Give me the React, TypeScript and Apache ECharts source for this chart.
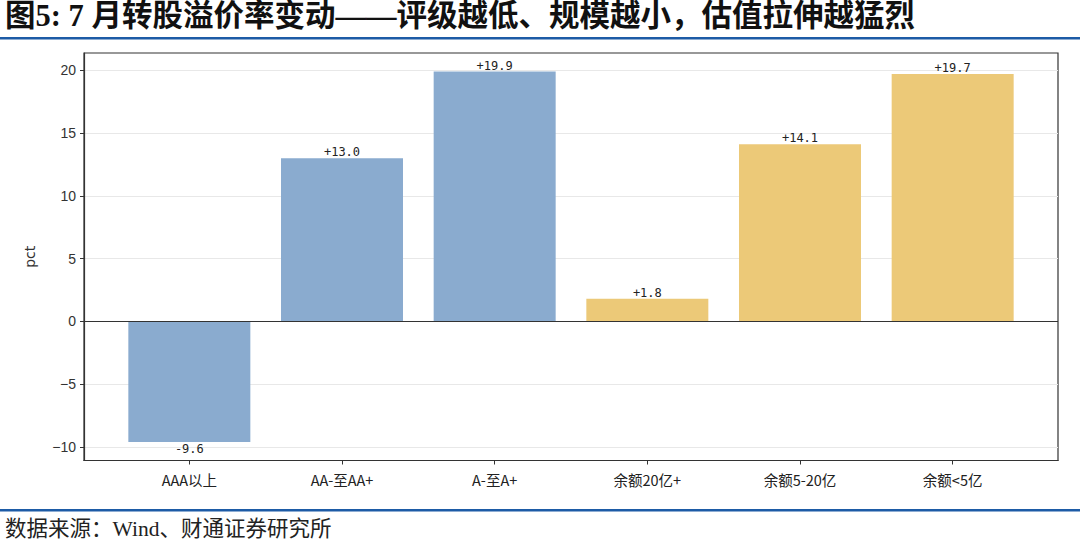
import React, { useEffect, useRef } from "react";
import * as echarts from "echarts";

const categories = ["AAA以上", "AA-至AA+", "A-至A+", "余额20亿+", "余额5-20亿", "余额<5亿"];
const values = [-9.6, 13.0, 19.9, 1.8, 14.1, 19.7];
const groups = ["rating", "rating", "rating", "size", "size", "size"];
const yTicks = [-10, -5, 0, 5, 10, 15, 20];
const xTicks = [0, 1, 2, 3, 4, 5];
const titleText = "图5: 7 月转股溢价率变动——评级越低、规模越小，估值拉伸越猛烈";
const sourceText = "数据来源：Wind、财通证券研究所";
const yName = "pct";

const groupColors: Record<string, string> = { rating: "#8aabcf", size: "#ecc978" };

export default function App() {
  const ref = useRef<HTMLDivElement>(null);
  useEffect(() => {
    if (!ref.current) return;
    const chart = echarts.init(ref.current, undefined, { renderer: "svg" });
    const cjk = "'Noto Sans CJK SC', sans-serif";
    chart.setOption({
      animation: false,
      backgroundColor: "#ffffff",
      grid: {
        left: 84,
        right: 22,
        top: 53,
        bottom: 88.5,
        show: true,
        borderColor: "#333333",
        borderWidth: 1.2,
        backgroundColor: "transparent",
      },
      xAxis: {
        type: "value",
        min: -0.69,
        max: 5.69,
        axisLine: { show: true, onZero: false, lineStyle: { color: "#333333", width: 1.2 } },
        axisTick: { show: true, customValues: xTicks, length: 4, lineStyle: { color: "#333333" } },
        axisLabel: {
          customValues: xTicks,
          formatter: (v: number) => categories[Math.round(v)] ?? "",
          color: "#222222",
          fontFamily: cjk,
          fontSize: 14.5,
          margin: 12,
        },
        splitLine: { show: false },
      },
      yAxis: {
        type: "value",
        min: -11.075,
        max: 21.375,
        name: yName,
        nameLocation: "middle",
        nameGap: 47,
        nameTextStyle: { color: "#333333", fontFamily: "'DejaVu Sans', sans-serif", fontSize: 14 },
        axisLine: { show: true, onZero: false, lineStyle: { color: "#333333", width: 1.2 } },
        axisTick: { show: true, customValues: yTicks, length: 4, lineStyle: { color: "#333333" } },
        axisLabel: {
          customValues: yTicks,
          formatter: (v: number) => String(v).replace("-", "\u2212"),
          color: "#333333",
          fontFamily: "'Liberation Sans', Arial, sans-serif",
          fontSize: 14,
          margin: 8,
        },
        splitLine: { show: true, lineStyle: { color: "#e8e8e8", width: 1 } },
      },
      series: [
        {
          type: "bar",
          barWidth: 122,
          data: values.map((v, i) => ({
            value: [xTicks[i], v],
            itemStyle: { color: groupColors[groups[i]] },
            label: { position: v >= 0 ? "top" : "bottom", distance: v >= 0 ? 0 : 1 },
          })),
          label: {
            show: true,
            formatter: (p: any) => {
              const v = p.value[1] as number;
              return (v > 0 ? "+" : "") + v.toFixed(1);
            },
            color: "#222222",
            fontFamily: "'DejaVu Sans Mono', monospace",
            fontSize: 12,
          },
          markLine: {
            silent: true,
            symbol: "none",
            label: { show: false },
            lineStyle: { color: "#333333", type: "solid", width: 1.2 },
            data: [{ yAxis: 0 }],
          },
        },
      ],
      graphic: [
        {
          type: "text",
          left: 5,
          top: 1,
          style: {
            text: titleText,
            fontFamily: "'Liberation Serif', 'Noto Sans CJK SC', serif",
            fontWeight: "bold",
            fontSize: 30.5,
            fill: "#111111",
          },
        },
        {
          type: "rect",
          shape: { x: 0, y: 37, width: 1080, height: 2.5 },
          style: { fill: "#1d5ba6" },
        },
        {
          type: "rect",
          shape: { x: 0, y: 509, width: 1080, height: 2.5 },
          style: { fill: "#1d5ba6" },
        },
        {
          type: "text",
          left: 5,
          top: 518,
          style: {
            text: sourceText,
            fontFamily: "'Liberation Serif', 'Noto Sans CJK SC', serif",
            fontSize: 21.5,
            fill: "#222222",
          },
        },
      ],
    });
    return () => chart.dispose();
  }, []);
  return (
    <div
      ref={ref}
      style={{ position: "fixed", left: 0, top: 0, width: 1080, height: 549, background: "#fff" }}
    />
  );
}
